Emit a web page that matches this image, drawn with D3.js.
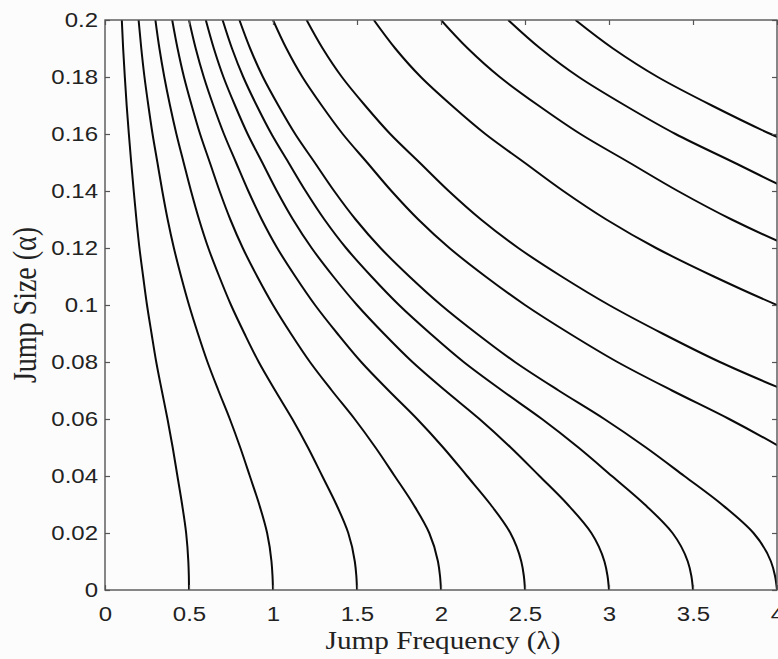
<!DOCTYPE html>
<html>
<head>
<meta charset="utf-8">
<script src="https://cdn.jsdelivr.net/npm/d3@7"></script>
<style>
  html, body { margin: 0; padding: 0; background: #fcfcfc; }
  svg { display: block; }
</style>
</head>
<body>
<svg id="chart" width="778" height="659"></svg>
<script>
const alphaGrid = [0, 0.005, 0.01, 0.02, 0.03, 0.04, 0.05, 0.06, 0.07, 0.08, 0.09,
                   0.10, 0.11, 0.12, 0.13, 0.14, 0.15, 0.16, 0.17, 0.18, 0.19, 0.20];

// lambda of each contour line; short lines start further up the alpha grid
// (aligned with the tail of alphaGrid)
const contourLambda = [
  [0.5, 0.499, 0.496, 0.483, 0.459, 0.431, 0.403, 0.372, 0.338, 0.305, 0.277, 0.25, 0.227, 0.205, 0.187, 0.171, 0.156, 0.142, 0.129, 0.118, 0.108, 0.1],
  [1, 0.997, 0.991, 0.965, 0.918, 0.862, 0.805, 0.743, 0.675, 0.61, 0.553, 0.5, 0.453, 0.41, 0.373, 0.341, 0.312, 0.283, 0.258, 0.235, 0.216, 0.2],
  [1.5, 1.496, 1.487, 1.448, 1.377, 1.293, 1.208, 1.115, 1.013, 0.915, 0.83, 0.75, 0.68, 0.615, 0.56, 0.512, 0.468, 0.425, 0.387, 0.353, 0.324, 0.3],
  [2, 1.994, 1.982, 1.93, 1.836, 1.724, 1.61, 1.486, 1.35, 1.22, 1.106, 1.0, 0.906, 0.82, 0.746, 0.682, 0.624, 0.566, 0.516, 0.47, 0.432, 0.4],
  [2.5, 2.493, 2.478, 2.413, 2.295, 2.155, 2.013, 1.858, 1.688, 1.525, 1.383, 1.25, 1.133, 1.025, 0.933, 0.853, 0.78, 0.708, 0.645, 0.588, 0.54, 0.5],
  [3, 2.991, 2.973, 2.895, 2.754, 2.586, 2.415, 2.229, 2.025, 1.83, 1.659, 1.5, 1.359, 1.23, 1.119, 1.023, 0.936, 0.849, 0.774, 0.705, 0.648, 0.6],
  [3.5, 3.49, 3.469, 3.378, 3.213, 3.017, 2.818, 2.601, 2.363, 2.135, 1.936, 1.75, 1.586, 1.435, 1.306, 1.194, 1.092, 0.991, 0.903, 0.823, 0.756, 0.7],
  [4, 3.988, 3.964, 3.86, 3.672, 3.448, 3.22, 2.972, 2.7, 2.44, 2.212, 2.0, 1.812, 1.64, 1.492, 1.364, 1.248, 1.132, 1.032, 0.94, 0.864, 0.8],
  [4.31, 4.025, 3.715, 3.375, 3.05, 2.765, 2.5, 2.265, 2.05, 1.865, 1.705, 1.56, 1.415, 1.29, 1.175, 1.08, 1.0],
  [4.458, 4.05, 3.66, 3.318, 3.0, 2.718, 2.46, 2.238, 2.046, 1.872, 1.698, 1.548, 1.41, 1.296, 1.2],
  [4.424, 4.0, 3.624, 3.28, 2.984, 2.728, 2.496, 2.264, 2.064, 1.88, 1.728, 1.6],
  [4.53, 4.1, 3.73, 3.41, 3.12, 2.83, 2.58, 2.35, 2.16, 2.0],
  [4.476, 4.092, 3.744, 3.396, 3.096, 2.82, 2.592, 2.4],
  [4.368, 3.962, 3.612, 3.29, 3.024, 2.8]
];

const xTicks = [0, 0.5, 1, 1.5, 2, 2.5, 3, 3.5, 4];
const yTicks = [0, 0.02, 0.04, 0.06, 0.08, 0.1, 0.12, 0.14, 0.16, 0.18, 0.2];

const plotLeft = 105, plotRight = 777, plotTop = 20, plotBottom = 590;
const stretch = 1.17;   // the picture is a bit wider than tall

const svg = d3.select("#chart");

const x = d3.scaleLinear().domain([0, 4]).range([plotLeft, plotRight]);
const y = d3.scaleLinear().domain([0, 0.2]).range([plotBottom, plotTop]);

svg.append("defs").append("clipPath").attr("id", "plotclip")
  .append("rect")
  .attr("x", plotLeft).attr("y", plotTop)
  .attr("width", plotRight - plotLeft).attr("height", plotBottom - plotTop);

// contour lines, drawn top to bottom so y is monotone
let line = d3.line()
  .x(d => x(d[0]))
  .y(d => y(d[1]))
  .curve(d3.curveMonotoneY);

let g = svg.append("g").attr("clip-path", "url(#plotclip)");
contourLambda.forEach(arr => {
  let offset = alphaGrid.length - arr.length;
  let pts = arr.map((l, i) => [l, alphaGrid[offset + i]]).reverse();
  g.append("path")
    .attr("fill", "none")
    .attr("stroke", "#0a0a0a")
    .attr("stroke-width", 2)
    .attr("d", line(pts));
});

// axes, ticks pointing inward
const axisColor = "#555";
const fmt = d => String(d);

let xAxis = svg.append("g")
  .attr("transform", `translate(0, ${plotBottom})`)
  .call(d3.axisBottom(x).tickValues(xTicks).tickFormat(fmt)
        .tickSizeInner(-5).tickSizeOuter(0).tickPadding(16));
let xTop = svg.append("g")
  .attr("transform", `translate(0, ${plotTop})`)
  .call(d3.axisTop(x).tickValues(xTicks).tickFormat("")
        .tickSizeInner(-5).tickSizeOuter(0));
let yAxis = svg.append("g")
  .attr("transform", `translate(${plotLeft}, 0)`)
  .call(d3.axisLeft(y).tickValues(yTicks).tickFormat(fmt)
        .tickSizeInner(-5).tickSizeOuter(0).tickPadding(6));
let yRight = svg.append("g")
  .attr("transform", `translate(${plotRight}, 0)`)
  .call(d3.axisRight(y).tickValues(yTicks).tickFormat("")
        .tickSizeInner(-5).tickSizeOuter(0));

[xAxis, xTop, yAxis, yRight].forEach(a => {
  a.select(".domain").remove();
  a.selectAll("line").attr("stroke", axisColor).attr("stroke-width", 1.2);
  a.selectAll("text")
    .attr("fill", "#222")
    .style("font-family", "'Liberation Sans', Arial, sans-serif")
    .style("font-size", "20.5px");
});
xAxis.selectAll("text").attr("transform", `scale(${stretch},1)`);
yAxis.selectAll("text").attr("transform", `scale(${stretch},1)`);

// box
svg.append("rect")
  .attr("x", plotLeft).attr("y", plotTop)
  .attr("width", plotRight - plotLeft).attr("height", plotBottom - plotTop)
  .attr("fill", "none")
  .attr("stroke", axisColor)
  .attr("stroke-width", 1.4);

// axis titles
svg.append("text")
  .attr("transform", `translate(${(plotLeft + plotRight) / 2 + 2}, 649) scale(${stretch},1)`)
  .attr("text-anchor", "middle")
  .style("font-family", "'Liberation Serif', 'Times New Roman', serif")
  .style("font-size", "25px")
  .attr("fill", "#222")
  .text("Jump Frequency (λ)");

svg.append("text")
  .attr("transform", `translate(36, 305) scale(${stretch},1) rotate(-90)`)
  .attr("text-anchor", "middle")
  .style("font-family", "'Liberation Serif', 'Times New Roman', serif")
  .style("font-size", "28px")
  .attr("fill", "#222")
  .text("Jump Size (α)");
</script>
</body>
</html>
